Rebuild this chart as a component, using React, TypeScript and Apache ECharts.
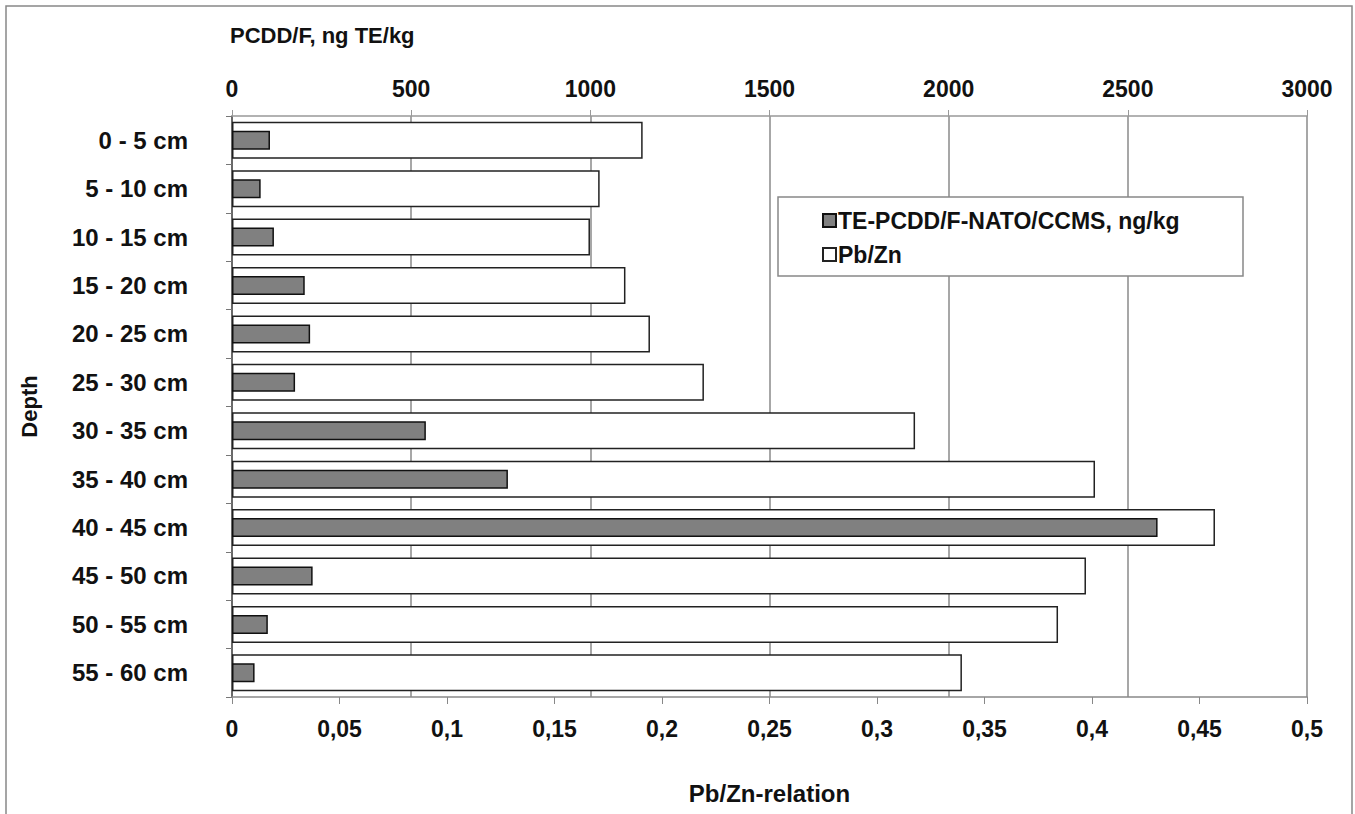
import React, { useEffect, useRef } from "react";
import * as echarts from "echarts";

const categories = [
  "0 - 5 cm", "5 - 10 cm", "10 - 15 cm", "15 - 20 cm", "20 - 25 cm", "25 - 30 cm",
  "30 - 35 cm", "35 - 40 cm", "40 - 45 cm", "45 - 50 cm", "50 - 55 cm", "55 - 60 cm",
];
const pcddfValues = [106, 80, 117, 203, 218, 176, 541, 770, 2583, 225, 100, 63];
const pbznValues = [0.191, 0.171, 0.1665, 0.183, 0.1944, 0.2195, 0.3177, 0.4014, 0.4572, 0.3972, 0.3842, 0.3395];
const topTicks = [0, 500, 1000, 1500, 2000, 2500, 3000];
const bottomTicks = [0, 0.05, 0.1, 0.15, 0.2, 0.25, 0.3, 0.35, 0.4, 0.45, 0.5];

const SERIES_PCDDF = "TE-PCDD/F-NATO/CCMS, ng/kg";
const SERIES_PBZN = "Pb/Zn";
const FONT = "Liberation Sans";

export default function App() {
  const ref = useRef<HTMLDivElement>(null);
  useEffect(() => {
    if (!ref.current) return;
    const chart = echarts.init(ref.current, null, { renderer: "svg" });
    const labelStyle = { fontFamily: FONT, fontWeight: "bold" as const, fontSize: 23, color: "#111" };
    chart.setOption({
      animation: false,
      backgroundColor: "#fff",
      textStyle: { fontFamily: FONT },
      grid: { left: 232, right: 48, top: 116, bottom: 117, containLabel: false },
      legend: {
        data: [SERIES_PCDDF, SERIES_PBZN],
        orient: "vertical",
        left: 817,
        top: 204,
        icon: "rect",
        itemWidth: 13,
        itemHeight: 13,
        itemGap: 11,
        selectedMode: false,
        z: 20,
        textStyle: { ...labelStyle, fontSize: 23, padding: [0, 0, 0, -3] },
      },
      xAxis: [
        {
          type: "value",
          position: "top",
          min: topTicks[0],
          max: topTicks[topTicks.length - 1],
          interval: topTicks[1] - topTicks[0],
          axisLine: { show: true, lineStyle: { color: "#999", width: 1.5 } },
          axisTick: { show: true, length: 6, lineStyle: { color: "#999" } },
          axisLabel: { ...labelStyle, margin: 16, formatter: (v: number) => String(v) },
          splitLine: { show: true, lineStyle: { color: "#8a8a8a", width: 1.5 } },
        },
        {
          type: "value",
          position: "bottom",
          min: bottomTicks[0],
          max: bottomTicks[bottomTicks.length - 1],
          interval: 0.05,
          name: "Pb/Zn-relation",
          nameLocation: "middle",
          nameGap: 84,
          nameTextStyle: { ...labelStyle, fontSize: 24 },
          axisLine: { show: true, lineStyle: { color: "#888", width: 1.5 } },
          axisTick: { show: true, length: 7, lineStyle: { color: "#888" } },
          axisLabel: {
            ...labelStyle,
            margin: 20,
            formatter: (v: number) => String(parseFloat(v.toFixed(2))).replace(".", ","),
          },
          splitLine: { show: false },
        },
      ],
      yAxis: [
        {
          type: "category",
          data: categories,
          inverse: true,
          name: "Depth",
          nameLocation: "middle",
          nameRotate: 90,
          nameGap: 192,
          nameTextStyle: { ...labelStyle, fontSize: 22 },
          axisLine: { show: true, lineStyle: { color: "#555", width: 1.5 } },
          axisTick: { show: true, length: 6, lineStyle: { color: "#777" } },
          axisLabel: { ...labelStyle, fontSize: 24, margin: 44 },
        },
        {
          type: "category",
          data: categories,
          inverse: true,
          show: false,
        },
      ],
      graphic: [
        {
          type: "rect",
          shape: { x: 6, y: 6, width: 1346, height: 840 },
          style: { fill: "none", stroke: "#888", lineWidth: 1.5 },
          silent: true,
          z: -10,
        },
        {
          type: "rect",
          shape: { x: 778, y: 197, width: 465, height: 79 },
          style: { fill: "#fff", stroke: "#888", lineWidth: 1.5 },
          silent: true,
          z: 1,
        },
        {
          type: "text",
          left: 230,
          top: 24,
          style: { text: "PCDD/F, ng TE/kg", font: `bold 22px "${FONT}"`, fill: "#111" },
          z: 10,
        },
      ],
      series: [
        {
          name: SERIES_PBZN,
          type: "bar",
          xAxisIndex: 1,
          yAxisIndex: 1,
          data: pbznValues,
          barWidth: 37,
          itemStyle: { color: "#fff", borderColor: "#222", borderWidth: 1.5 },
          z: 2,
        },
        {
          name: SERIES_PCDDF,
          type: "bar",
          xAxisIndex: 0,
          yAxisIndex: 0,
          data: pcddfValues,
          barWidth: 19,
          itemStyle: { color: "#808080", borderColor: "#111", borderWidth: 1.5 },
          z: 3,
        },
      ],
    });
    return () => chart.dispose();
  }, []);
  return (
    <div
      ref={ref}
      style={{ position: "absolute", left: 0, top: 0, width: 1355, height: 814 }}
    />
  );
}
